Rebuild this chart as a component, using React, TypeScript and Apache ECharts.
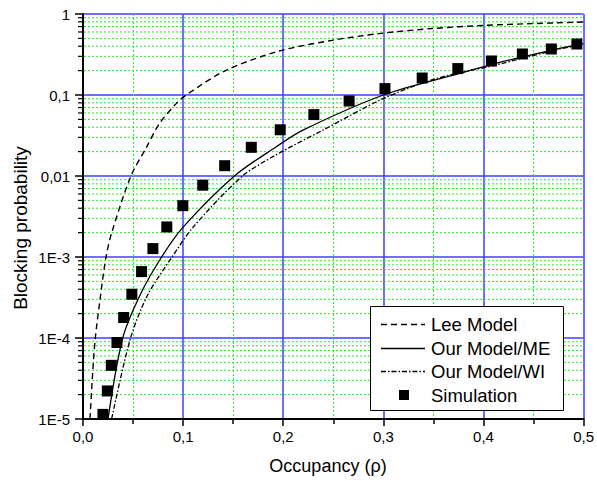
import React, { useEffect, useRef } from 'react';
import * as echarts from 'echarts';

// Simulation points
const simX = [0.0199, 0.0243, 0.0283, 0.0339, 0.0406, 0.0488, 0.0585, 0.0698, 0.0837, 0.0997, 0.1196, 0.1415, 0.1681, 0.197, 0.2306, 0.2658, 0.3016, 0.3388, 0.3744, 0.408, 0.4389, 0.4678, 0.4933];
const simY = [1.14e-5, 2.22e-5, 4.6e-5, 8.8e-5, 1.79e-4, 3.47e-4, 6.6e-4, 1.27e-3, 2.35e-3, 4.3e-3, 7.7e-3, 0.0134, 0.0226, 0.0372, 0.0573, 0.0843, 0.12, 0.162, 0.212, 0.263, 0.321, 0.37, 0.426];

// Lee Model
const leeX = [0.007, 0.0097, 0.0123, 0.0169, 0.023, 0.0289, 0.0479, 0.0632, 0.0764, 0.0931, 0.103, 0.1429, 0.196, 0.2488, 0.2957, 0.3485, 0.402, 0.448, 0.5];
const leeY = [1e-5, 3.8e-5, 1e-4, 2.92e-4, 1e-3, 2.04e-3, 0.01, 0.0224, 0.0444, 0.0783, 0.1, 0.202, 0.349, 0.473, 0.573, 0.661, 0.725, 0.761, 0.796];

// Our Model/ME
const meX = [0.025, 0.0397, 0.0574, 0.0785, 0.1, 0.1512, 0.1927, 0.2192, 0.3, 0.3754, 0.4086, 0.4419, 0.475, 0.5];
const meY = [1e-5, 1e-4, 3.47e-4, 1e-3, 2.34e-3, 0.01, 0.0228, 0.0366, 0.1, 0.1837, 0.2393, 0.3006, 0.374, 0.4315];

// Our Model/WI
const wiX = [0.0286, 0.0475, 0.065, 0.089, 0.11, 0.1594, 0.1927, 0.2392, 0.3, 0.3522, 0.4086, 0.4419, 0.475, 0.5];
const wiY = [1e-5, 1e-4, 3.47e-4, 1e-3, 2.34e-3, 0.01, 0.0182, 0.0366, 0.0904, 0.1585, 0.229, 0.29, 0.366, 0.4227];

const yTickValues = [1e-5, 1e-4, 1e-3, 0.01, 0.1, 1];
const yTickLabels = ['1E-5', '1E-4', '1E-3', '0,01', '0,1', '1'];
const xTickLabels = ['0,0', '0,1', '0,2', '0,3', '0,4', '0,5'];
const seriesNames = ['Lee Model', 'Our Model/ME', 'Our Model/WI', 'Simulation'];

const FONT = 'Arial, "Liberation Sans", sans-serif';
const LEE_DASH = [6, 4];
const WI_DASH = [5, 2, 1.5, 2];
const GREEN = '#22ee22';
const BLUE = '#3f3fff';

const pairs = (xs: number[], ys: number[]) => xs.map((x, i) => [x, ys[i]]);

export default function App() {
  const ref = useRef<HTMLDivElement>(null);
  useEffect(() => {
    if (!ref.current) return;
    const chart = echarts.init(ref.current, null, { renderer: 'svg' });
    const minorGrid: number[][] = [];
    for (let d = -5; d < 0; d++) {
      for (let k = 2; k <= 9; k++) minorGrid.push([0, k * Math.pow(10, d)]);
    }

    // legend drawn as graphic
    const lgLeft = 370;
    const lgTop = 306;
    const rowCenters = [324, 348, 371, 395];
    const legendChildren: any[] = [
      {
        type: 'rect',
        z: 100,
        shape: { x: lgLeft + 0.5, y: lgTop + 0.5, width: 193, height: 104 },
        style: { fill: '#fff', stroke: '#000', lineWidth: 1 },
      },
    ];
    const dashes: any[] = [LEE_DASH, null, WI_DASH];
    seriesNames.forEach((name, i) => {
      const cy = rowCenters[i];
      if (i < 3) {
        legendChildren.push({
          type: 'line',
          z: 101,
          shape: { x1: lgLeft + 11, y1: cy + 0.5, x2: lgLeft + 55, y2: cy + 0.5 },
          style: { stroke: '#000', lineWidth: 1.3, lineDash: dashes[i] || undefined },
        });
      } else {
        legendChildren.push({
          type: 'rect',
          z: 101,
          shape: { x: lgLeft + 29, y: cy - 5, width: 10, height: 10 },
          style: { fill: '#000' },
        });
      }
      legendChildren.push({
        type: 'text',
        z: 101,
        x: lgLeft + 61,
        y: cy,
        style: {
          text: name,
          fontSize: 18.5,
          fontFamily: FONT,
          fill: '#000',
          textAlign: 'left',
          textVerticalAlign: 'middle',
        },
      });
    });

    const option: any = {
      animation: false,
      backgroundColor: '#fff',
      grid: { left: 83, right: 10, top: 14, bottom: 62, containLabel: false },
      xAxis: {
        type: 'value',
        min: 0,
        max: 0.5,
        interval: 0.1,
        axisLine: { show: true, onZero: false, lineStyle: { color: '#000', width: 2 } },
        axisTick: { show: true, inside: false, length: 7, lineStyle: { color: '#000', width: 1.5 } },
        minorTick: { show: true, splitNumber: 2, length: 5, lineStyle: { color: '#000', width: 1.5 } },
        splitLine: { show: true, lineStyle: { color: BLUE, width: 1.5 } },
        minorSplitLine: { show: true, lineStyle: { color: GREEN, width: 1, type: [2, 2] } },
        axisLabel: {
          margin: 10,
          fontSize: 15,
          fontFamily: FONT,
          color: '#000',
          formatter: (v: number) => xTickLabels[Math.round(v * 10)] ?? '',
        },
      },
      yAxis: {
        type: 'log',
        logBase: 10,
        min: 1e-5,
        max: 1,
        axisLine: { show: true, onZero: false, lineStyle: { color: '#000', width: 2 } },
        axisTick: { show: true, inside: false, length: 8, lineStyle: { color: '#000', width: 1.5 } },
        minorTick: { show: false },
        splitLine: { show: true, lineStyle: { color: BLUE, width: 1.5 } },
        minorSplitLine: { show: false },
        axisLabel: {
          margin: 13,
          fontSize: 15,
          fontFamily: FONT,
          color: '#000',
          formatter: (v: number) => {
            const i = yTickValues.findIndex((t) => Math.abs(Math.log10(t) - Math.log10(v)) < 1e-6);
            return i >= 0 ? yTickLabels[i] : '';
          },
        },
      },
      legend: { show: false },
      graphic: [
        {
          type: 'text',
          x: 20,
          y: 228,
          rotation: Math.PI / 2,
          style: {
            text: 'Blocking probability',
            fontSize: 19,
            fontFamily: FONT,
            fill: '#000',
            textAlign: 'center',
            textVerticalAlign: 'middle',
          },
        },
        {
          type: 'text',
          x: 328,
          y: 466,
          style: {
            text: 'Occupancy (ρ)',
            fontSize: 18,
            fontFamily: FONT,
            fill: '#000',
            textAlign: 'center',
            textVerticalAlign: 'middle',
          },
        },
        { type: 'group', z: 100, children: legendChildren },
      ],
      series: [
        {
          type: 'custom',
          name: '__minor',
          coordinateSystem: 'cartesian2d',
          data: minorGrid,
          encode: { x: 0, y: 1 },
          clip: false,
          silent: true,
          z: 1,
          renderItem: (params: any, api: any) => {
            const v = api.value(1);
            const p0 = api.coord([0, v]);
            const p1 = api.coord([0.5, v]);
            return {
              type: 'group',
              children: [
                {
                  type: 'line',
                  shape: { x1: p0[0] + 1, y1: p0[1], x2: p1[0], y2: p1[1] },
                  style: { stroke: GREEN, lineWidth: 1, lineDash: [2, 2], fill: null },
                },
                {
                  type: 'line',
                  shape: { x1: p0[0] - 5, y1: p0[1], x2: p0[0], y2: p0[1] },
                  style: { stroke: '#000', lineWidth: 1.2, fill: null },
                },
              ],
            };
          },
        },
        {
          type: 'line',
          name: seriesNames[0],
          data: pairs(leeX, leeY),
          showSymbol: false,
          symbol: 'none',
          smooth: 0.3,
          z: 3,
          lineStyle: { color: '#000', width: 1.4, type: LEE_DASH },
        },
        {
          type: 'line',
          name: seriesNames[1],
          data: pairs(meX, meY),
          showSymbol: false,
          symbol: 'none',
          smooth: 0.3,
          z: 3,
          lineStyle: { color: '#000', width: 1.3, type: 'solid' },
        },
        {
          type: 'line',
          name: seriesNames[2],
          data: pairs(wiX, wiY),
          showSymbol: false,
          symbol: 'none',
          smooth: 0.3,
          z: 3,
          lineStyle: { color: '#000', width: 1.3, type: WI_DASH },
        },
        {
          type: 'scatter',
          name: seriesNames[3],
          data: pairs(simX, simY),
          symbol: 'rect',
          symbolSize: 11,
          z: 4,
          itemStyle: { color: '#000', opacity: 1 },
        },
      ],
    };
    chart.setOption(option);
    return () => chart.dispose();
  }, []);
  return <div ref={ref} style={{ width: 597, height: 481, position: 'absolute', left: 0, top: 0 }} />;
}
